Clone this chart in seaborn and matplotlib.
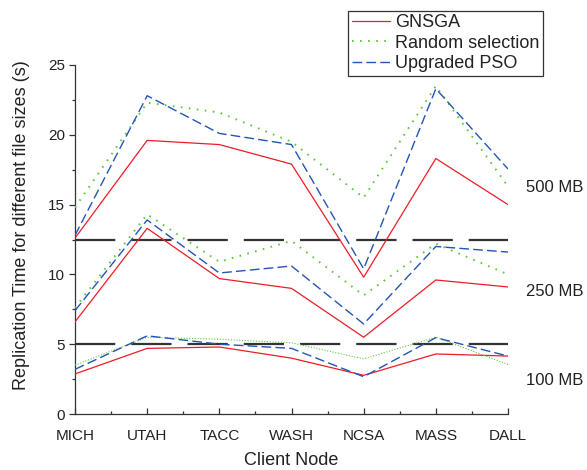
import matplotlib
matplotlib.use("Agg")
import matplotlib.pyplot as plt
import seaborn as sns
import pandas as pd
import numpy as np
from matplotlib.ticker import MultipleLocator, FixedLocator

nodes = ["MICH", "UTAH", "TACC", "WASH", "NCSA", "MASS", "DALL"]
series_names = ["GNSGA", "Random selection", "Upgraded PSO"]

# 500 MB
gnsga_500 = [12.6, 19.6, 19.3, 17.9, 9.8, 18.3, 15.0]
random_500 = [14.8, 22.3, 21.6, 19.5, 15.5, 23.5, 16.3]
pso_500 = [12.8, 22.8, 20.1, 19.3, 10.4, 23.3, 17.55]
# 250 MB
gnsga_250 = [6.6, 13.3, 9.7, 9.0, 5.5, 9.6, 9.1]
random_250 = [7.6, 14.3, 10.9, 12.4, 8.5, 12.2, 10.0]
pso_250 = [7.4, 13.9, 10.1, 10.6, 6.45, 12.0, 11.6]
# 100 MB
gnsga_100 = [2.87, 4.7, 4.8, 4.0, 2.77, 4.3, 4.15]
random_100 = [3.5, 5.5, 5.35, 5.1, 3.95, 5.5, 3.55]
pso_100 = [3.2, 5.6, 5.0, 4.7, 2.67, 5.47, 4.15]

size_labels = ["500 MB", "250 MB", "100 MB"]
size_label_y = [16.2, 8.8, 2.4]
separator_y = [12.5, 5.0]

plt.rcParams["lines.scale_dashes"] = False
sns.set_style("ticks")
plt.rcParams["font.family"] = ["Liberation Sans", "DejaVu Sans"]

fig = plt.figure(figsize=(5.87, 4.70), dpi=100)
ax = fig.add_axes([75/587, 1-414/470, (508-75)/587, (414-65)/470])

x = np.arange(len(nodes))
red = "#EE1C25"
green = "#5CC93A"
blue = "#2454B4"

# separators
for yv in separator_y:
    ax.plot([0, 6], [yv, yv], color="#333333", lw=1.6, ls=(0, (29, 11.5)), zorder=1)

def draw(vals, color, ls, lw, label):
    df = pd.DataFrame({"x": x, "y": vals})
    sns.lineplot(data=df, x="x", y="y", ax=ax, color=color, lw=lw, linestyle=ls,
                 label=label, legend=False, zorder=3)

groups = [(gnsga_500, random_500, pso_500),
          (gnsga_250, random_250, pso_250),
          (gnsga_100, random_100, pso_100)]
for gi, (g, r, p) in enumerate(groups):
    draw(g, red, "-", 0.9, series_names[0] if gi == 0 else "_nolegend_")
    if gi < 2:
        draw(r, green, (0, (1.2, 4.6)), 1.4, series_names[1] if gi == 0 else "_nolegend_")
    else:
        draw(r, green, (0, (0.8, 1.2)), 0.8, "_nolegend_")
    draw(p, blue, (0, (7, 3)), 1.0, series_names[2] if gi == 0 else "_nolegend_")

ax.set_xlim(0, 6)
ax.set_ylim(0, 25)
ax.set_xticks(x)
ax.set_xticklabels(nodes)
ax.xaxis.set_minor_locator(FixedLocator(x[:-1] + 0.5))
ax.yaxis.set_major_locator(MultipleLocator(5))
ax.yaxis.set_minor_locator(MultipleLocator(2.5))

for s in ["top", "right"]:
    ax.spines[s].set_visible(False)
for s in ["left", "bottom"]:
    ax.spines[s].set_color("#333333")
    ax.spines[s].set_linewidth(0.9)

ax.tick_params(axis="x", which="major", direction="in", length=4, width=0.9, color="#333333",
               labelsize=11, pad=10.5, labelcolor="#222222")
ax.tick_params(axis="x", which="minor", direction="in", length=2.5, width=0.9, color="#333333")
ax.tick_params(axis="y", which="major", direction="out", length=4, width=0.9, color="#333333",
               labelsize=11, pad=3, labelcolor="#222222")
ax.tick_params(axis="y", which="minor", direction="out", length=2.5, width=0.9, color="#333333")

ax.set_xlabel("Client Node", fontsize=13, color="#222222", labelpad=7)
ax.set_ylabel("Replication Time for different file sizes (s)", fontsize=13, color="#222222")
ax.yaxis.set_label_coords(-0.104, 0.54)

for lab, yv in zip(size_labels, size_label_y):
    ax.text(6.25, yv, lab, fontsize=12, color="#222222", va="center", ha="left", clip_on=False)

handles, labels = ax.get_legend_handles_labels()
leg = fig.legend(handles, labels, loc="lower left", bbox_to_anchor=(348/587, 1-76/470),
                 fontsize=13, frameon=True, fancybox=False, shadow=False,
                 handlelength=2.1, handletextpad=0.33, borderpad=0.2, labelspacing=0.2,
                 borderaxespad=0)
leg.get_frame().set_edgecolor("#333333")
leg.get_frame().set_linewidth(0.9)
leg.get_frame().set_alpha(1)
for t in leg.get_texts():
    t.set_color("#222222")

fig.savefig("out.png", dpi=100)
